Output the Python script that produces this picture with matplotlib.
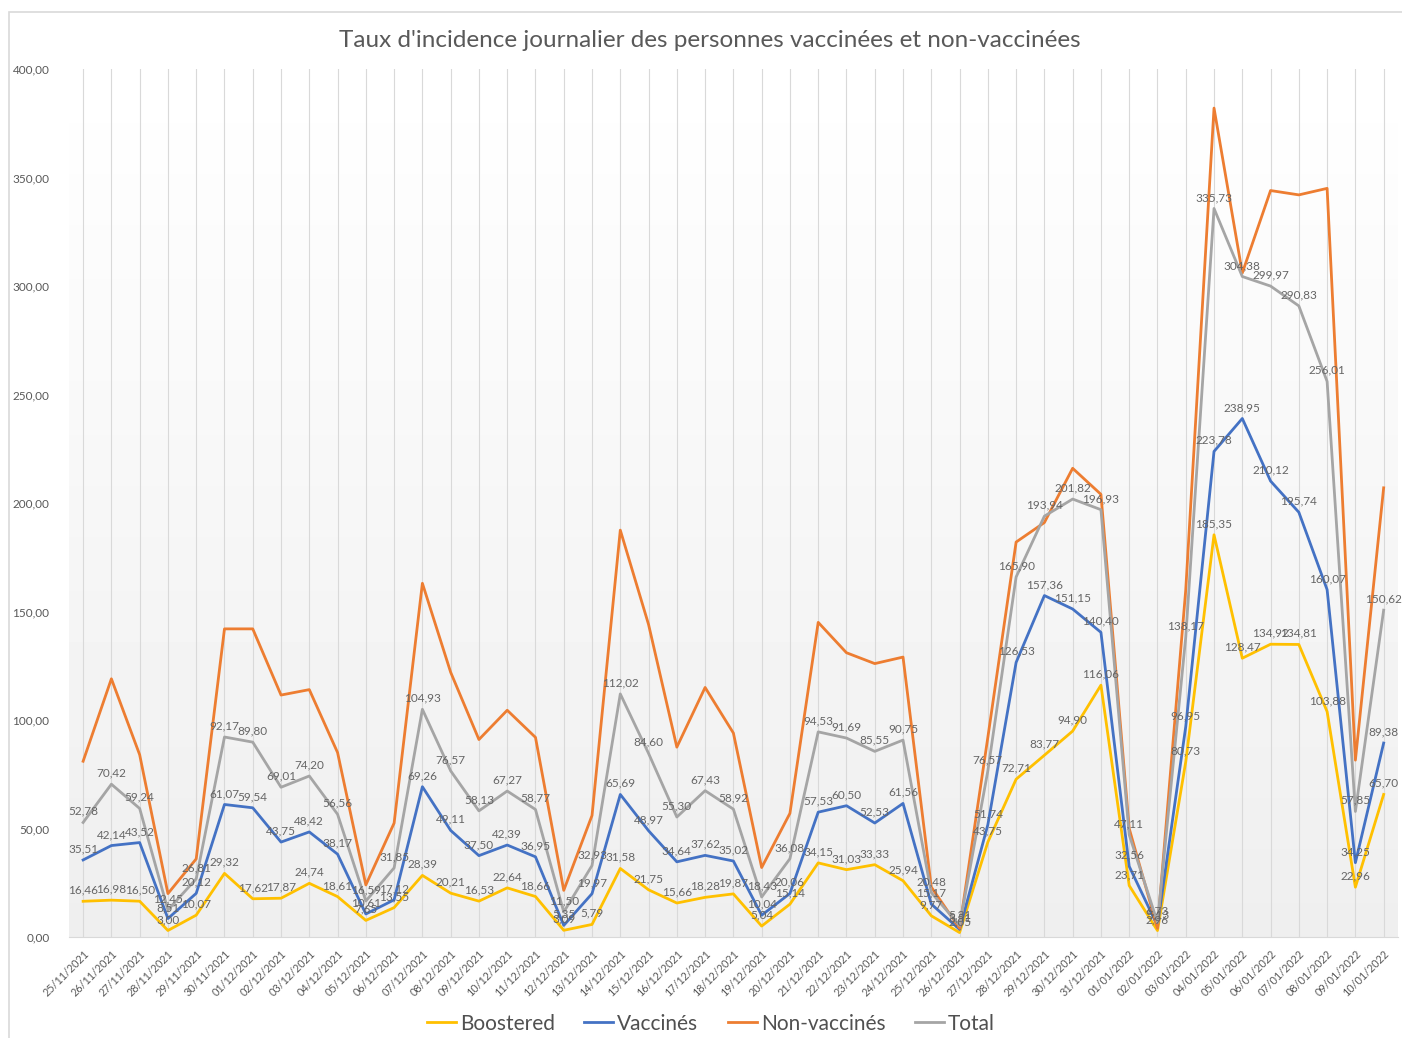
import numpy as np
import matplotlib
matplotlib.use("Agg")
from matplotlib import pyplot as plt
from matplotlib.patches import Rectangle

plt.rcParams["font.family"] = ["Lato", "DejaVu Sans"]

dates = ["25/11/2021", "26/11/2021", "27/11/2021", "28/11/2021", "29/11/2021",
         "30/11/2021", "01/12/2021", "02/12/2021", "03/12/2021", "04/12/2021",
         "05/12/2021", "06/12/2021", "07/12/2021", "08/12/2021", "09/12/2021",
         "10/12/2021", "11/12/2021", "12/12/2021", "13/12/2021", "14/12/2021",
         "15/12/2021", "16/12/2021", "17/12/2021", "18/12/2021", "19/12/2021",
         "20/12/2021", "21/12/2021", "22/12/2021", "23/12/2021", "24/12/2021",
         "25/12/2021", "26/12/2021", "27/12/2021", "28/12/2021", "29/12/2021",
         "30/12/2021", "31/12/2021", "01/01/2022", "02/01/2022", "03/01/2022",
         "04/01/2022", "05/01/2022", "06/01/2022", "07/01/2022", "08/01/2022",
         "09/01/2022", "10/01/2022"]

boostered = [16.46, 16.98, 16.50, 3.00, 10.07, 29.32, 17.62, 17.87, 24.74, 18.61,
             7.65, 13.55, 28.39, 20.21, 16.53, 22.64, 18.66, 3.09, 5.79, 31.58,
             21.75, 15.66, 18.28, 19.87, 5.04, 15.14, 34.15, 31.03, 33.33, 25.94,
             9.77, 2.05, 43.75, 72.71, 83.77, 94.90, 116.06, 23.71, 2.96, 80.73,
             185.35, 128.47, 134.92, 134.81, 103.88, 22.96, 65.70]

vaccines = [35.51, 42.14, 43.52, 8.51, 20.12, 61.07, 59.54, 43.75, 48.42, 38.17,
            10.61, 17.12, 69.26, 49.11, 37.50, 42.39, 36.95, 5.35, 19.97, 65.69,
            48.97, 34.64, 37.62, 35.02, 10.04, 20.06, 57.53, 60.50, 52.53, 61.56,
            15.17, 3.51, 51.74, 126.53, 157.36, 151.15, 140.40, 32.56, 5.13, 96.95,
            223.78, 238.95, 210.12, 195.74, 160.07, 34.25, 89.38]

non_vaccines = [81, 119, 84, 20, 36, 142, 142, 111.5, 114, 85,
                24, 52.5, 163, 122, 91, 104.5, 92, 21.5, 56, 187.5,
                144, 87.5, 115, 94, 32, 57, 145, 131, 126, 129,
                23, 4, 92, 182, 191, 216, 204, 50, 4, 160,
                382, 306, 344, 342, 345, 81.5, 207]

total = [52.78, 70.42, 59.24, 12.45, 26.81, 92.17, 89.80, 69.01, 74.20, 56.56,
         16.59, 31.85, 104.93, 76.57, 58.13, 67.27, 58.77, 11.50, 32.93, 112.02,
         84.60, 55.30, 67.43, 58.92, 18.43, 36.08, 94.53, 91.69, 85.55, 90.75,
         20.48, 5.31, 76.57, 165.90, 193.94, 201.82, 196.93, 47.11, 6.73, 138.17,
         335.73, 304.38, 299.97, 290.83, 256.01, 57.85, 150.62]

series = [("Boostered", boostered, "#FFC000", True),
          ("Vaccinés", vaccines, "#4472C4", True),
          ("Non-vaccinés", non_vaccines, "#ED7D31", False),
          ("Total", total, "#A5A5A5", True)]

fig = plt.figure(figsize=(14.02, 10.38), dpi=100)
ax = fig.add_axes([0.0492, 0.0973, 0.9478, 0.8362])

# light gradient behind the plot area
grad = np.linspace(1.0, 0.935, 256).reshape(-1, 1)
ax.imshow(grad, cmap="gray", vmin=0, vmax=1, aspect="auto",
          extent=[0, 1, 0, 1], transform=ax.transAxes, zorder=0)

x = np.arange(len(dates))
for name, vals, color, labelled in series:
    ax.plot(x, vals, color=color, lw=2.0, label=name, zorder=3)
    if labelled:
        for xi, v in zip(x, vals):
            ax.annotate(f"{v:.2f}".replace(".", ","), (xi, v),
                        xytext=(0, 4), textcoords="offset points",
                        ha="center", va="bottom", fontsize=8.5,
                        color="#656565", zorder=4)

ax.set_xlim(-0.5, len(dates) - 0.5)
ax.set_ylim(0, 400)
yt = np.arange(0, 401, 50)
ax.set_yticks(yt)
ax.set_yticklabels([f"{v:.2f}".replace(".", ",") for v in yt],
                   fontsize=8.5, color="#595959")
ax.set_xticks(x)
ax.set_xticklabels(dates, rotation=45, ha="right", rotation_mode="anchor",
                   fontsize=7.8, color="#595959")
ax.tick_params(length=0, pad=8)
ax.tick_params(axis="y", pad=14)
ax.grid(axis="x", color="#d9d9d9", lw=0.8, zorder=1)
for s in ["left", "top", "right"]:
    ax.spines[s].set_visible(False)
ax.spines["bottom"].set_color("#d9d9d9")

fig.text(0.506, 0.961, "Taux d'incidence journalier des personnes vaccinées et non-vaccinées",
         ha="center", va="center", fontsize=17.5, color="#595959")

fig.legend(loc="lower center", bbox_to_anchor=(0.507, -0.014), ncol=4,
           frameon=False, fontsize=15, handlelength=1.4, handletextpad=0.2,
           columnspacing=1.4, labelcolor="#505050")

fig.patches.append(Rectangle((9 / 1402, -0.05), 1.1, 1.05 - 12 / 1038,
                             transform=fig.transFigure, fill=False,
                             edgecolor="#d9d9d9", lw=1.2))

fig.savefig("out.png", dpi=100)
